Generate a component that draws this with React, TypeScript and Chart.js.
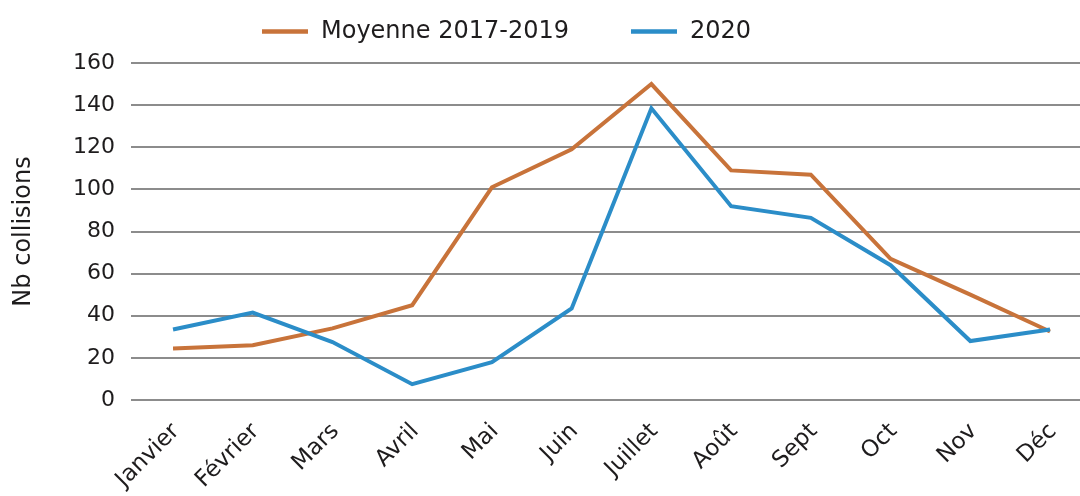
import React, { useEffect, useRef } from "react";
import { Chart, registerables } from "chart.js";

Chart.register(...registerables);

const months = ["Janvier", "Février", "Mars", "Avril", "Mai", "Juin", "Juillet", "Août", "Sept", "Oct", "Nov", "Déc"];
const moyenne = [24.5, 26, 34, 45, 101, 119, 150, 109, 107, 67, 50, 32.5];
const values2020 = [33.5, 41.5, 27.5, 7.5, 18, 43.5, 138.5, 92, 86.5, 64, 28, 33.5];
const seriesLabels = ["Moyenne 2017-2019", "2020"];
const yTickValues = [0, 20, 40, 60, 80, 100, 120, 140, 160];
const yTitle = "Nb collisions";

const FONT = '"DejaVu Sans", sans-serif';
const TEXT = "#1e1c1d";
const ORANGE = "#c8733a";
const BLUE = "#2b8dc8";

const legendPlugin = {
  id: "topLegend",
  afterDraw(chart: any) {
    const ctx = chart.ctx;
    ctx.save();
    ctx.font = `24px ${FONT}`;
    ctx.textBaseline = "alphabetic";
    let x = 262;
    chart.data.datasets.forEach((ds: any) => {
      ctx.strokeStyle = ds.borderColor;
      ctx.lineWidth = 4.5;
      ctx.beginPath();
      ctx.moveTo(x, 31.5);
      ctx.lineTo(x + 46, 31.5);
      ctx.stroke();
      ctx.fillStyle = TEXT;
      ctx.fillText(ds.label, x + 59, 38);
      x += 59 + ctx.measureText(ds.label).width + 62;
    });
    ctx.restore();
  },
};

export default function App() {
  const ref = useRef<HTMLCanvasElement | null>(null);
  useEffect(() => {
    document.body.style.margin = "0";
    const canvas = ref.current!;
    const chart = new Chart(canvas, {
      type: "line",
      data: {
        datasets: [
          {
            label: seriesLabels[0],
            data: moyenne.map((v, i) => ({ x: i, y: v })),
            borderColor: ORANGE,
            backgroundColor: ORANGE,
            borderWidth: 4,
            pointRadius: 0,
            tension: 0,
            order: 1,
          },
          {
            label: seriesLabels[1],
            data: values2020.map((v, i) => ({ x: i, y: v })),
            borderColor: BLUE,
            backgroundColor: BLUE,
            borderWidth: 4,
            pointRadius: 0,
            tension: 0,
            order: 0,
          },
        ],
      },
      options: {
        animation: false,
        responsive: false,
        devicePixelRatio: 1,
        layout: { padding: { top: 63, left: 0, right: 0, bottom: 0 } },
        plugins: {
          legend: { display: false },
          tooltip: { enabled: false },
        },
        scales: {
          x: {
            type: "linear",
            min: -0.527,
            max: 11.376,
            grid: { display: false },
            border: { display: false },
            afterBuildTicks: (scale: any) => {
              scale.ticks = months.map((_, i) => ({ value: i }));
            },
            afterFit: (scale: any) => {
              scale.height = 96;
            },
            ticks: {
              autoSkip: false,
              minRotation: 45,
              maxRotation: 45,
              padding: 10,
              labelOffset: 3,
              color: TEXT,
              font: { family: FONT, size: 23 },
              callback: (v: any) => months[v as number] ?? "",
            },
          },
          y: {
            min: 0,
            max: 160,
            afterBuildTicks: (scale: any) => {
              scale.ticks = yTickValues.map((v) => ({ value: v }));
            },
            afterFit: (scale: any) => {
              scale.width = 131;
            },
            grid: { color: "#8c8c8c", lineWidth: 2, drawTicks: false },
            border: { display: false },
            ticks: {
              padding: 16,
              color: TEXT,
              font: { family: FONT, size: 22 },
            },
            title: {
              display: true,
              text: yTitle,
              color: TEXT,
              font: { family: FONT, size: 24 },
              padding: { top: 9, bottom: 0 },
            },
          },
        },
      },
      plugins: [legendPlugin],
    });
    return () => chart.destroy();
  }, []);
  return <canvas ref={ref} width={1080} height={496} style={{ display: "block" }} />;
}
